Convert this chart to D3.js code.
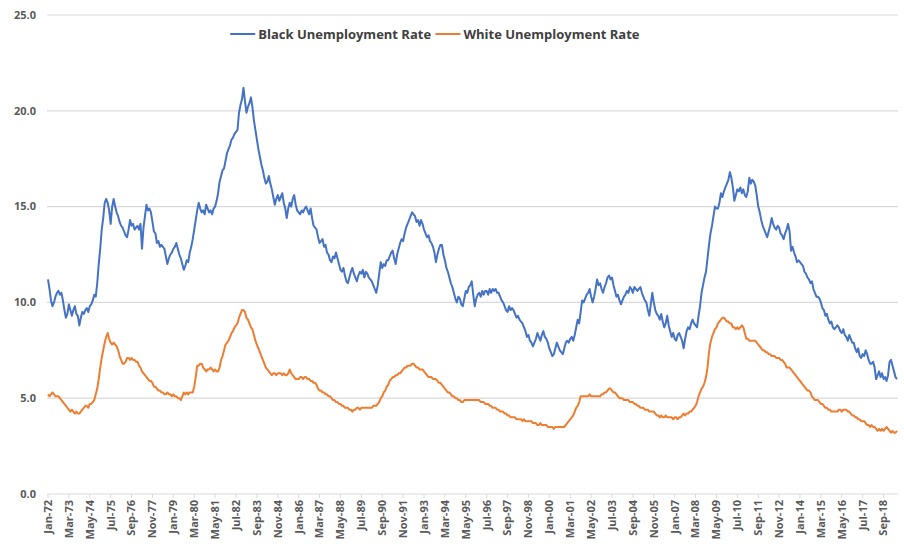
<!DOCTYPE html>
<html>
<head>
<meta charset="utf-8">
<script src="https://cdn.jsdelivr.net/npm/d3@7"></script>
<style>
  body { margin: 0; background: #fff; }
  svg text { font-family: "Open Sans", "Liberation Sans", sans-serif; }
</style>
</head>
<body>
<div id="chart"></div>
<script>
// Monthly unemployment rate, Jan 1972 - Jun 2019 (one row per year)
const blackRate = [
  11.2, 10.7, 10.1, 9.8, 10.0, 10.3, 10.5, 10.6, 10.4, 10.5, 10.1, 9.6,   // 1972
  9.2, 9.4, 9.9, 9.6, 9.3, 9.6, 9.8, 9.4, 9.3, 8.8, 9.2, 9.5,             // 1973
  9.4, 9.6, 9.7, 9.5, 9.8, 9.9, 10.1, 10.4, 10.3, 11.0, 12.0, 12.8,       // 1974
  13.8, 14.4, 15.2, 15.4, 15.2, 14.8, 14.1, 15.0, 15.4, 15.0, 14.7, 14.5, // 1975
  14.2, 14.0, 13.9, 13.7, 13.5, 13.4, 13.8, 14.3, 14.0, 14.1, 13.8, 13.9, // 1976
  14.0, 13.8, 14.1, 12.8, 13.9, 14.5, 15.1, 14.8, 14.9, 14.7, 14.2, 13.7, // 1977
  13.6, 13.1, 13.2, 12.9, 13.0, 12.9, 12.8, 12.4, 12.0, 12.3, 12.5, 12.6, // 1978
  12.8, 12.9, 13.1, 12.8, 12.5, 12.3, 12.0, 11.7, 11.9, 12.2, 12.1, 12.6, // 1979
  12.9, 13.3, 13.8, 14.3, 14.8, 15.2, 14.9, 14.7, 14.8, 14.6, 15.1, 14.9, // 1980
  14.7, 14.8, 14.6, 14.9, 15.0, 15.3, 15.7, 16.3, 16.6, 16.9, 17.0, 17.4, // 1981
  17.8, 18.0, 18.2, 18.5, 18.6, 18.8, 18.9, 19.0, 19.9, 20.3, 20.6, 21.2, // 1982
  20.5, 19.9, 20.2, 20.4, 20.7, 20.2, 19.5, 19.0, 18.5, 18.0, 17.6, 17.2, // 1983
  16.9, 16.5, 16.2, 16.3, 16.6, 16.2, 15.9, 15.5, 15.1, 15.4, 15.6, 15.3, // 1984
  15.5, 15.7, 15.2, 14.9, 14.4, 14.9, 15.2, 15.0, 15.4, 15.6, 15.1, 14.8, // 1985
  14.7, 14.6, 14.8, 14.7, 14.9, 15.0, 14.8, 14.6, 14.9, 14.4, 14.0, 13.9, // 1986
  13.8, 13.4, 13.1, 13.2, 13.3, 12.9, 13.0, 12.6, 12.5, 12.2, 12.1, 12.4, // 1987
  12.3, 12.6, 12.3, 12.0, 11.7, 11.6, 11.8, 11.4, 11.1, 11.0, 11.3, 11.6, // 1988
  11.8, 11.5, 11.3, 11.1, 11.4, 11.6, 11.5, 11.7, 11.3, 11.6, 11.5, 11.3, // 1989
  11.2, 11.1, 10.9, 10.7, 10.5, 10.9, 11.5, 12.1, 11.8, 12.0, 11.9, 12.2, // 1990
  12.2, 12.4, 12.6, 12.7, 12.3, 12.0, 12.5, 12.8, 13.1, 13.3, 13.2, 13.6, // 1991
  13.9, 14.1, 14.3, 14.5, 14.7, 14.6, 14.5, 14.2, 14.3, 14.0, 14.3, 14.1, // 1992
  13.8, 13.6, 13.4, 13.5, 13.2, 13.1, 12.9, 12.6, 12.1, 12.5, 12.8, 13.0, // 1993
  13.0, 12.5, 12.2, 11.8, 11.6, 11.3, 11.0, 10.8, 10.5, 10.2, 10.0, 10.3, // 1994
  10.2, 9.9, 9.8, 10.2, 10.6, 10.5, 10.8, 10.9, 11.1, 10.4, 9.8, 10.2,    // 1995
  10.4, 10.5, 10.3, 10.6, 10.4, 10.6, 10.6, 10.4, 10.7, 10.5, 10.7, 10.6, // 1996
  10.7, 10.5, 10.5, 10.3, 10.1, 10.0, 9.8, 9.6, 9.5, 9.8, 9.6, 9.7,       // 1997
  9.6, 9.4, 9.2, 9.3, 9.1, 9.0, 8.9, 8.7, 8.5, 8.2, 8.3, 8.0,             // 1998
  7.9, 7.7, 7.9, 8.1, 8.4, 8.2, 8.0, 8.3, 8.5, 8.2, 8.1, 7.9,             // 1999
  7.6, 7.4, 7.2, 7.3, 7.6, 7.9, 7.7, 7.5, 7.4, 7.3, 7.6, 7.9,             // 2000
  8.0, 7.9, 8.1, 8.2, 8.0, 8.3, 8.7, 9.1, 8.9, 9.5, 10.1, 10.0,           // 2001
  10.2, 10.4, 10.5, 10.7, 10.3, 10.0, 10.3, 10.7, 11.2, 10.9, 11.0, 10.7, // 2002
  10.5, 10.8, 11.0, 11.3, 11.4, 11.2, 11.3, 10.9, 10.6, 10.3, 10.4, 10.1, // 2003
  9.9, 10.1, 10.3, 10.4, 10.6, 10.5, 10.8, 10.7, 10.5, 10.8, 10.7, 10.6,  // 2004
  10.7, 10.8, 10.5, 10.3, 10.1, 10.0, 9.6, 9.3, 9.9, 10.5, 10.0, 9.6,     // 2005
  9.4, 9.3, 9.1, 9.4, 9.0, 8.7, 8.9, 9.3, 8.8, 8.5, 8.2, 8.4,             // 2006
  8.1, 8.0, 8.3, 8.4, 8.2, 8.0, 7.6, 8.1, 8.5, 8.7, 8.6, 8.9,             // 2007
  9.1, 8.9, 8.8, 8.7, 9.3, 9.8, 10.5, 10.9, 11.3, 11.6, 12.3, 13.0,       // 2008
  13.6, 14.0, 14.5, 15.0, 14.9, 14.9, 15.2, 15.7, 15.5, 15.8, 16.0, 16.2, // 2009
  16.4, 16.8, 16.5, 16.0, 15.3, 15.6, 15.9, 15.8, 16.0, 15.7, 15.9, 15.6, // 2010
  15.5, 15.8, 16.5, 16.2, 16.4, 16.3, 16.1, 15.6, 15.0, 14.7, 14.3, 14.0, // 2011
  13.8, 13.6, 13.4, 13.7, 14.0, 14.4, 14.1, 13.9, 13.8, 14.0, 13.9, 13.6, // 2012
  13.5, 13.3, 13.6, 13.8, 14.1, 13.7, 12.7, 12.9, 12.6, 12.4, 12.1, 12.2, // 2013
  12.1, 12.0, 11.9, 11.6, 11.5, 11.3, 11.2, 11.0, 11.1, 10.7, 10.5, 10.3, // 2014
  10.3, 10.2, 10.0, 9.7, 9.6, 9.3, 9.4, 9.1, 8.9, 9.0, 8.7, 8.6,          // 2015
  8.7, 8.8, 8.7, 8.5, 8.4, 8.6, 8.3, 8.2, 8.0, 8.3, 8.1, 7.9,             // 2016
  7.9, 7.6, 7.4, 7.6, 7.2, 7.1, 7.3, 7.2, 7.5, 7.3, 7.0, 6.8,             // 2017
  6.8, 6.9, 6.6, 6.0, 6.2, 6.4, 6.1, 6.3, 6.0, 6.1, 5.9, 6.2,             // 2018
  6.9, 7.0, 6.7, 6.4, 6.1, 6.0                                            // 2019
];

const whiteRate = [
  5.2, 5.1, 5.2, 5.3, 5.2, 5.1, 5.1, 5.1, 5.0, 4.9, 4.8, 4.7, // 1972
  4.6, 4.5, 4.4, 4.3, 4.4, 4.3, 4.2, 4.3, 4.2, 4.2, 4.3, 4.4, // 1973
  4.5, 4.6, 4.6, 4.5, 4.7, 4.7, 4.8, 4.9, 5.2, 5.5, 6.0, 6.6, // 1974
  7.1, 7.5, 7.9, 8.2, 8.4, 8.1, 7.9, 7.8, 7.9, 7.8, 7.7, 7.5, // 1975
  7.2, 7.0, 6.8, 6.8, 6.9, 7.1, 7.1, 7.0, 7.1, 7.0, 7.0, 6.9, // 1976
  6.9, 6.7, 6.6, 6.4, 6.3, 6.2, 6.1, 6.0, 5.9, 5.9, 5.8, 5.6, // 1977
  5.6, 5.5, 5.4, 5.4, 5.3, 5.3, 5.2, 5.2, 5.3, 5.2, 5.2, 5.1, // 1978
  5.2, 5.1, 5.1, 5.0, 5.0, 4.9, 5.1, 5.3, 5.2, 5.3, 5.2, 5.3, // 1979
  5.3, 5.3, 5.6, 6.1, 6.7, 6.7, 6.8, 6.8, 6.6, 6.5, 6.4, 6.5, // 1980
  6.5, 6.6, 6.5, 6.4, 6.5, 6.4, 6.4, 6.6, 7.0, 7.2, 7.5, 7.8, // 1981
  7.9, 8.0, 8.2, 8.4, 8.5, 8.7, 8.8, 8.9, 9.2, 9.4, 9.6, 9.6, // 1982
  9.5, 9.2, 9.1, 8.9, 8.7, 8.6, 8.3, 8.0, 7.8, 7.6, 7.4, 7.2, // 1983
  7.0, 6.8, 6.6, 6.5, 6.4, 6.3, 6.2, 6.3, 6.3, 6.2, 6.3, 6.3, // 1984
  6.3, 6.2, 6.3, 6.2, 6.2, 6.3, 6.5, 6.3, 6.2, 6.1, 6.0, 6.0, // 1985
  6.0, 6.1, 6.1, 6.0, 6.1, 6.1, 6.0, 6.0, 5.9, 5.9, 5.8, 5.8, // 1986
  5.7, 5.5, 5.4, 5.4, 5.3, 5.3, 5.2, 5.2, 5.1, 5.1, 5.0, 4.9, // 1987
  4.9, 4.8, 4.8, 4.7, 4.7, 4.6, 4.6, 4.5, 4.5, 4.5, 4.4, 4.4, // 1988
  4.3, 4.4, 4.4, 4.5, 4.5, 4.4, 4.5, 4.5, 4.5, 4.5, 4.5, 4.5, // 1989
  4.5, 4.5, 4.6, 4.6, 4.6, 4.7, 4.8, 5.0, 5.1, 5.3, 5.4, 5.6, // 1990
  5.7, 5.9, 6.0, 6.1, 6.1, 6.2, 6.2, 6.3, 6.3, 6.4, 6.5, 6.6, // 1991
  6.6, 6.7, 6.7, 6.7, 6.8, 6.8, 6.7, 6.6, 6.6, 6.5, 6.5, 6.5, // 1992
  6.4, 6.3, 6.2, 6.1, 6.1, 6.1, 6.0, 6.0, 6.0, 5.9, 5.8, 5.8, // 1993
  5.7, 5.6, 5.5, 5.4, 5.3, 5.3, 5.2, 5.1, 5.1, 5.0, 5.0, 4.9, // 1994
  4.9, 4.8, 4.8, 4.9, 4.9, 4.9, 4.9, 4.9, 4.9, 4.9, 4.9, 4.9, // 1995
  4.9, 4.9, 4.8, 4.8, 4.8, 4.7, 4.7, 4.7, 4.6, 4.6, 4.5, 4.5, // 1996
  4.5, 4.4, 4.4, 4.3, 4.3, 4.3, 4.2, 4.2, 4.1, 4.1, 4.0, 4.0, // 1997
  4.0, 4.0, 3.9, 3.9, 3.9, 3.9, 3.8, 3.9, 3.8, 3.8, 3.8, 3.8, // 1998
  3.8, 3.7, 3.7, 3.7, 3.6, 3.6, 3.7, 3.6, 3.6, 3.6, 3.6, 3.5, // 1999
  3.5, 3.5, 3.5, 3.4, 3.5, 3.5, 3.5, 3.5, 3.5, 3.5, 3.5, 3.6, // 2000
  3.7, 3.8, 3.9, 4.0, 4.1, 4.3, 4.5, 4.6, 4.8, 5.1, 5.1, 5.1, // 2001
  5.1, 5.1, 5.1, 5.2, 5.1, 5.1, 5.1, 5.1, 5.1, 5.1, 5.1, 5.2, // 2002
  5.2, 5.3, 5.3, 5.4, 5.5, 5.5, 5.4, 5.3, 5.3, 5.2, 5.1, 5.0, // 2003
  5.0, 5.0, 4.9, 4.9, 4.9, 4.9, 4.8, 4.8, 4.8, 4.7, 4.7, 4.6, // 2004
  4.6, 4.5, 4.5, 4.5, 4.4, 4.4, 4.4, 4.3, 4.3, 4.3, 4.3, 4.2, // 2005
  4.1, 4.1, 4.0, 4.1, 4.0, 4.0, 4.1, 4.0, 4.0, 4.0, 4.0, 3.9, // 2006
  4.0, 4.0, 3.9, 4.0, 4.0, 4.1, 4.2, 4.1, 4.2, 4.2, 4.3, 4.3, // 2007
  4.4, 4.5, 4.6, 4.8, 5.1, 5.3, 5.5, 5.6, 5.8, 6.1, 6.6, 7.4, // 2008
  7.9, 8.2, 8.4, 8.6, 8.7, 8.9, 9.0, 9.1, 9.2, 9.2, 9.1, 9.0, // 2009
  9.0, 8.9, 8.9, 8.7, 8.7, 8.6, 8.7, 8.6, 8.7, 8.8, 8.7, 8.4, // 2010
  8.1, 8.1, 8.0, 8.0, 8.0, 8.0, 8.0, 7.9, 7.8, 7.7, 7.6, 7.5, // 2011
  7.5, 7.4, 7.4, 7.3, 7.3, 7.2, 7.2, 7.2, 7.1, 7.1, 7.1, 7.0, // 2012
  7.0, 6.9, 6.8, 6.6, 6.6, 6.6, 6.5, 6.4, 6.3, 6.2, 6.1, 6.0, // 2013
  5.9, 5.8, 5.7, 5.6, 5.5, 5.4, 5.4, 5.3, 5.1, 5.0, 4.9, 4.9, // 2014
  4.9, 4.8, 4.7, 4.7, 4.6, 4.5, 4.5, 4.4, 4.4, 4.3, 4.3, 4.3, // 2015
  4.3, 4.3, 4.4, 4.4, 4.3, 4.4, 4.4, 4.4, 4.3, 4.3, 4.2, 4.1, // 2016
  4.1, 4.0, 4.0, 3.9, 3.9, 3.8, 3.8, 3.8, 3.7, 3.6, 3.6, 3.5, // 2017
  3.6, 3.5, 3.5, 3.4, 3.3, 3.4, 3.3, 3.4, 3.3, 3.4, 3.5, 3.4, // 2018
  3.3, 3.2, 3.3, 3.2, 3.2, 3.3                                // 2019
];

// category labels shown every 14 months, starting Jan-72
const tickLabels = [
  "Jan-72", "Mar-73", "May-74", "Jul-75", "Sep-76", "Nov-77", "Jan-79", "Mar-80",
  "May-81", "Jul-82", "Sep-83", "Nov-84", "Jan-86", "Mar-87", "May-88", "Jul-89",
  "Sep-90", "Nov-91", "Jan-93", "Mar-94", "May-95", "Jul-96", "Sep-97", "Nov-98",
  "Jan-00", "Mar-01", "May-02", "Jul-03", "Sep-04", "Nov-05", "Jan-07", "Mar-08",
  "May-09", "Jul-10", "Sep-11", "Nov-12", "Jan-14", "Mar-15", "May-16", "Jul-17",
  "Sep-18"
];
const tickStep = 14;
const yTicks = [0, 5, 10, 15, 20, 25];

const seriesNames = ["Black Unemployment Rate", "White Unemployment Rate"];
const seriesColors = ["#4472c4", "#ed7d31"];
const seriesData = [blackRate, whiteRate];

const W = 904, H = 544;
const plot = { left: 47, right: 898, top: 15, bottom: 494 };

const svg = d3.select('#chart')
  .append('svg')
  .attr('width', W)
  .attr('height', H);

const n = blackRate.length;
const x = d3.scaleLinear()
  .domain([0, n - 1])
  .range([plot.left + 1, plot.right - 1]);

const y = d3.scaleLinear()
  .domain([0, 25])
  .range([plot.bottom, plot.top]);

// horizontal gridlines
svg.append('g')
  .selectAll('line')
  .data(yTicks)
  .enter()
  .append('line')
  .attr('x1', plot.left)
  .attr('x2', plot.right)
  .attr('y1', d => y(d))
  .attr('y2', d => y(d))
  .attr('stroke', '#d9d9d9')
  .attr('stroke-width', 1.2);

// y labels
svg.append('g')
  .selectAll('text')
  .data(yTicks)
  .enter()
  .append('text')
  .attr('x', 36)
  .attr('y', d => y(d))
  .attr('dy', '0.35em')
  .attr('text-anchor', 'end')
  .attr('font-size', 11)
  .attr('font-weight', 'bold')
  .attr('fill', '#595959')
  .text(d => d.toFixed(1));

// x axis ticks and labels
const xTicks = tickLabels.map((t, i) => ({ label: t, idx: i * tickStep }));

svg.append('g')
  .selectAll('line')
  .data(xTicks)
  .enter()
  .append('line')
  .attr('x1', d => x(d.idx))
  .attr('x2', d => x(d.idx))
  .attr('y1', plot.bottom)
  .attr('y2', plot.bottom + 4)
  .attr('stroke', '#d9d9d9');

svg.append('g')
  .selectAll('text')
  .data(xTicks)
  .enter()
  .append('text')
  .attr('transform', d => `translate(${x(d.idx)},${plot.bottom + 6}) rotate(-90)`)
  .attr('dy', '0.35em')
  .attr('text-anchor', 'end')
  .attr('font-size', 11)
  .attr('font-weight', 'bold')
  .attr('fill', '#595959')
  .text(d => d.label);

// series lines
const line = d3.line()
  .x((d, i) => x(i))
  .y(d => y(d));

svg.append('g')
  .selectAll('path')
  .data(seriesData)
  .enter()
  .append('path')
  .attr('d', d => line(d))
  .attr('fill', 'none')
  .attr('stroke', (d, i) => seriesColors[i])
  .attr('stroke-width', 2)
  .attr('stroke-linejoin', 'round');

// legend, centred over the plot
const legend = svg.append('g');
const items = legend.selectAll('g')
  .data(seriesNames)
  .enter()
  .append('g');

items.append('line')
  .attr('x1', 0)
  .attr('x2', 25)
  .attr('y1', 0)
  .attr('y2', 0)
  .attr('stroke', (d, i) => seriesColors[i])
  .attr('stroke-width', 2);

items.append('text')
  .attr('x', 28)
  .attr('dy', '0.35em')
  .attr('font-size', 13)
  .attr('font-weight', 'bold')
  .attr('fill', '#404040')
  .text(d => d);

let offset = 0;
items.each(function() {
  d3.select(this).attr('transform', `translate(${offset},0)`);
  offset += this.getBBox().width + 4;
});
legend.attr('transform', `translate(${435 - (offset - 4) / 2},34)`);
</script>
</body>
</html>
